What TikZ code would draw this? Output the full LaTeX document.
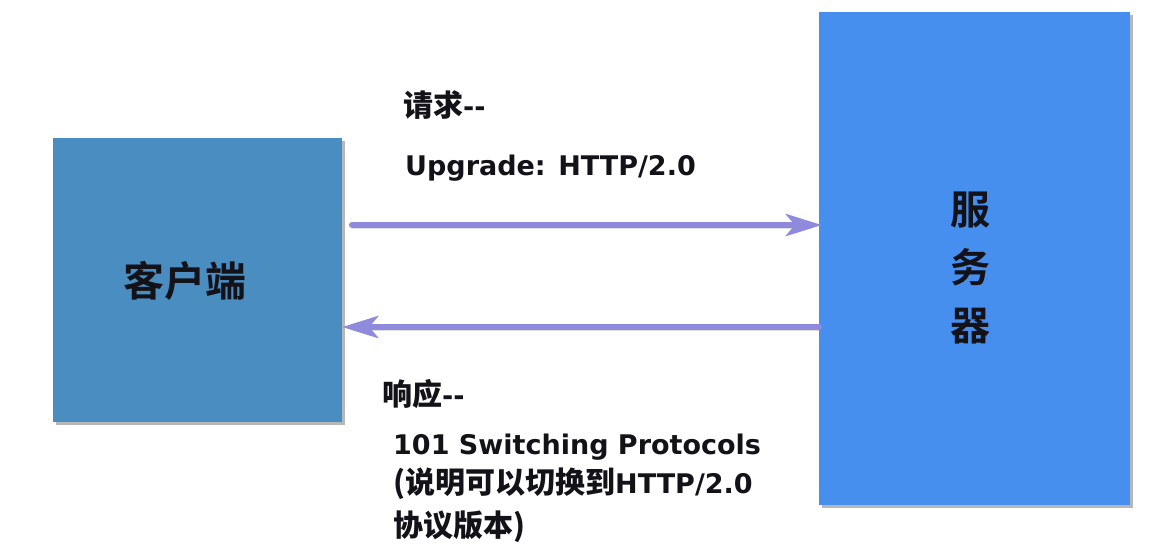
\documentclass[tikz,border=0pt]{standalone}
\usepackage{fontspec}
\setmainfont{DejaVu Sans}
\newfontfamily\cjk{Noto Sans CJK SC Bold}
\usetikzlibrary{arrows.meta,shadows}
\definecolor{clientc}{RGB}{74,141,193}
\definecolor{serverc}{RGB}{71,143,239}
\definecolor{arrowc}{RGB}{143,138,219}
\definecolor{txtc}{RGB}{18,18,24}
\newcommand\zh[1]{{\cjk\fontsize{30}{30}\selectfont #1}}
\tikzset{
  box/.style={draw=none, inner sep=0pt, rectangle,
    drop shadow={shadow xshift=3pt, shadow yshift=-3pt, opacity=.4, fill=black!70}},
  biglabel/.style={text=txtc, inner sep=0pt},
  lbl/.style={anchor=base west, inner sep=0pt, text=txtc, font=\bfseries\fontsize{27}{27}\selectfont},
  flow/.style={draw=arrowc, line width=6pt, line cap=round,
    -{Stealth[length=36pt,width=22pt,inset=9pt]},
    preaction={draw=black!50, opacity=.25, transform canvas={yshift=-3pt},
      -{Stealth[length=36pt,width=22pt,inset=9pt]}}}
}
\begin{document}
\begin{tikzpicture}[x=1pt,y=-1pt]
\useasboundingbox[fill=white] (0,0) rectangle (1154,558);
\node[box, fill=clientc, minimum width=289pt, minimum height=284pt] (client) at (197.5,280) {};
\node[box, fill=serverc, minimum width=311pt, minimum height=493pt] (server) at (974.5,258.5) {};
\node[biglabel, font=\cjk\fontsize{41}{41}\selectfont] (clientlabel) at (185,281) {客户端};
\node[biglabel, align=center, font=\cjk\fontsize{40}{58}\selectfont] (serverlabel) at (970,268) {服\\务\\器};
\coordinate (reqstart) at (352,225);
\coordinate (respy) at (0,327);
\draw[flow] (reqstart) -- ([xshift=3pt]server.west |- reqstart);
\draw[flow] (server.west |- respy) -- (client.east |- respy);
\node[lbl] (req) at (403,116) {\zh{请求}-{}-};
\node[lbl] (upg) at (405,175) {Upgrade: HTTP/2.0};
\node[lbl] (resp) at (382,405) {\zh{响应}-{}-};
\node[lbl] (code) at (393,454) {101 Switching Protocols};
\node[lbl] (expl1) at (393,493) {\zh{(说明可以切换到}HTTP/2.0};
\node[lbl] (expl2) at (393,536) {\zh{协议版本)}};
\end{tikzpicture}
\end{document}
